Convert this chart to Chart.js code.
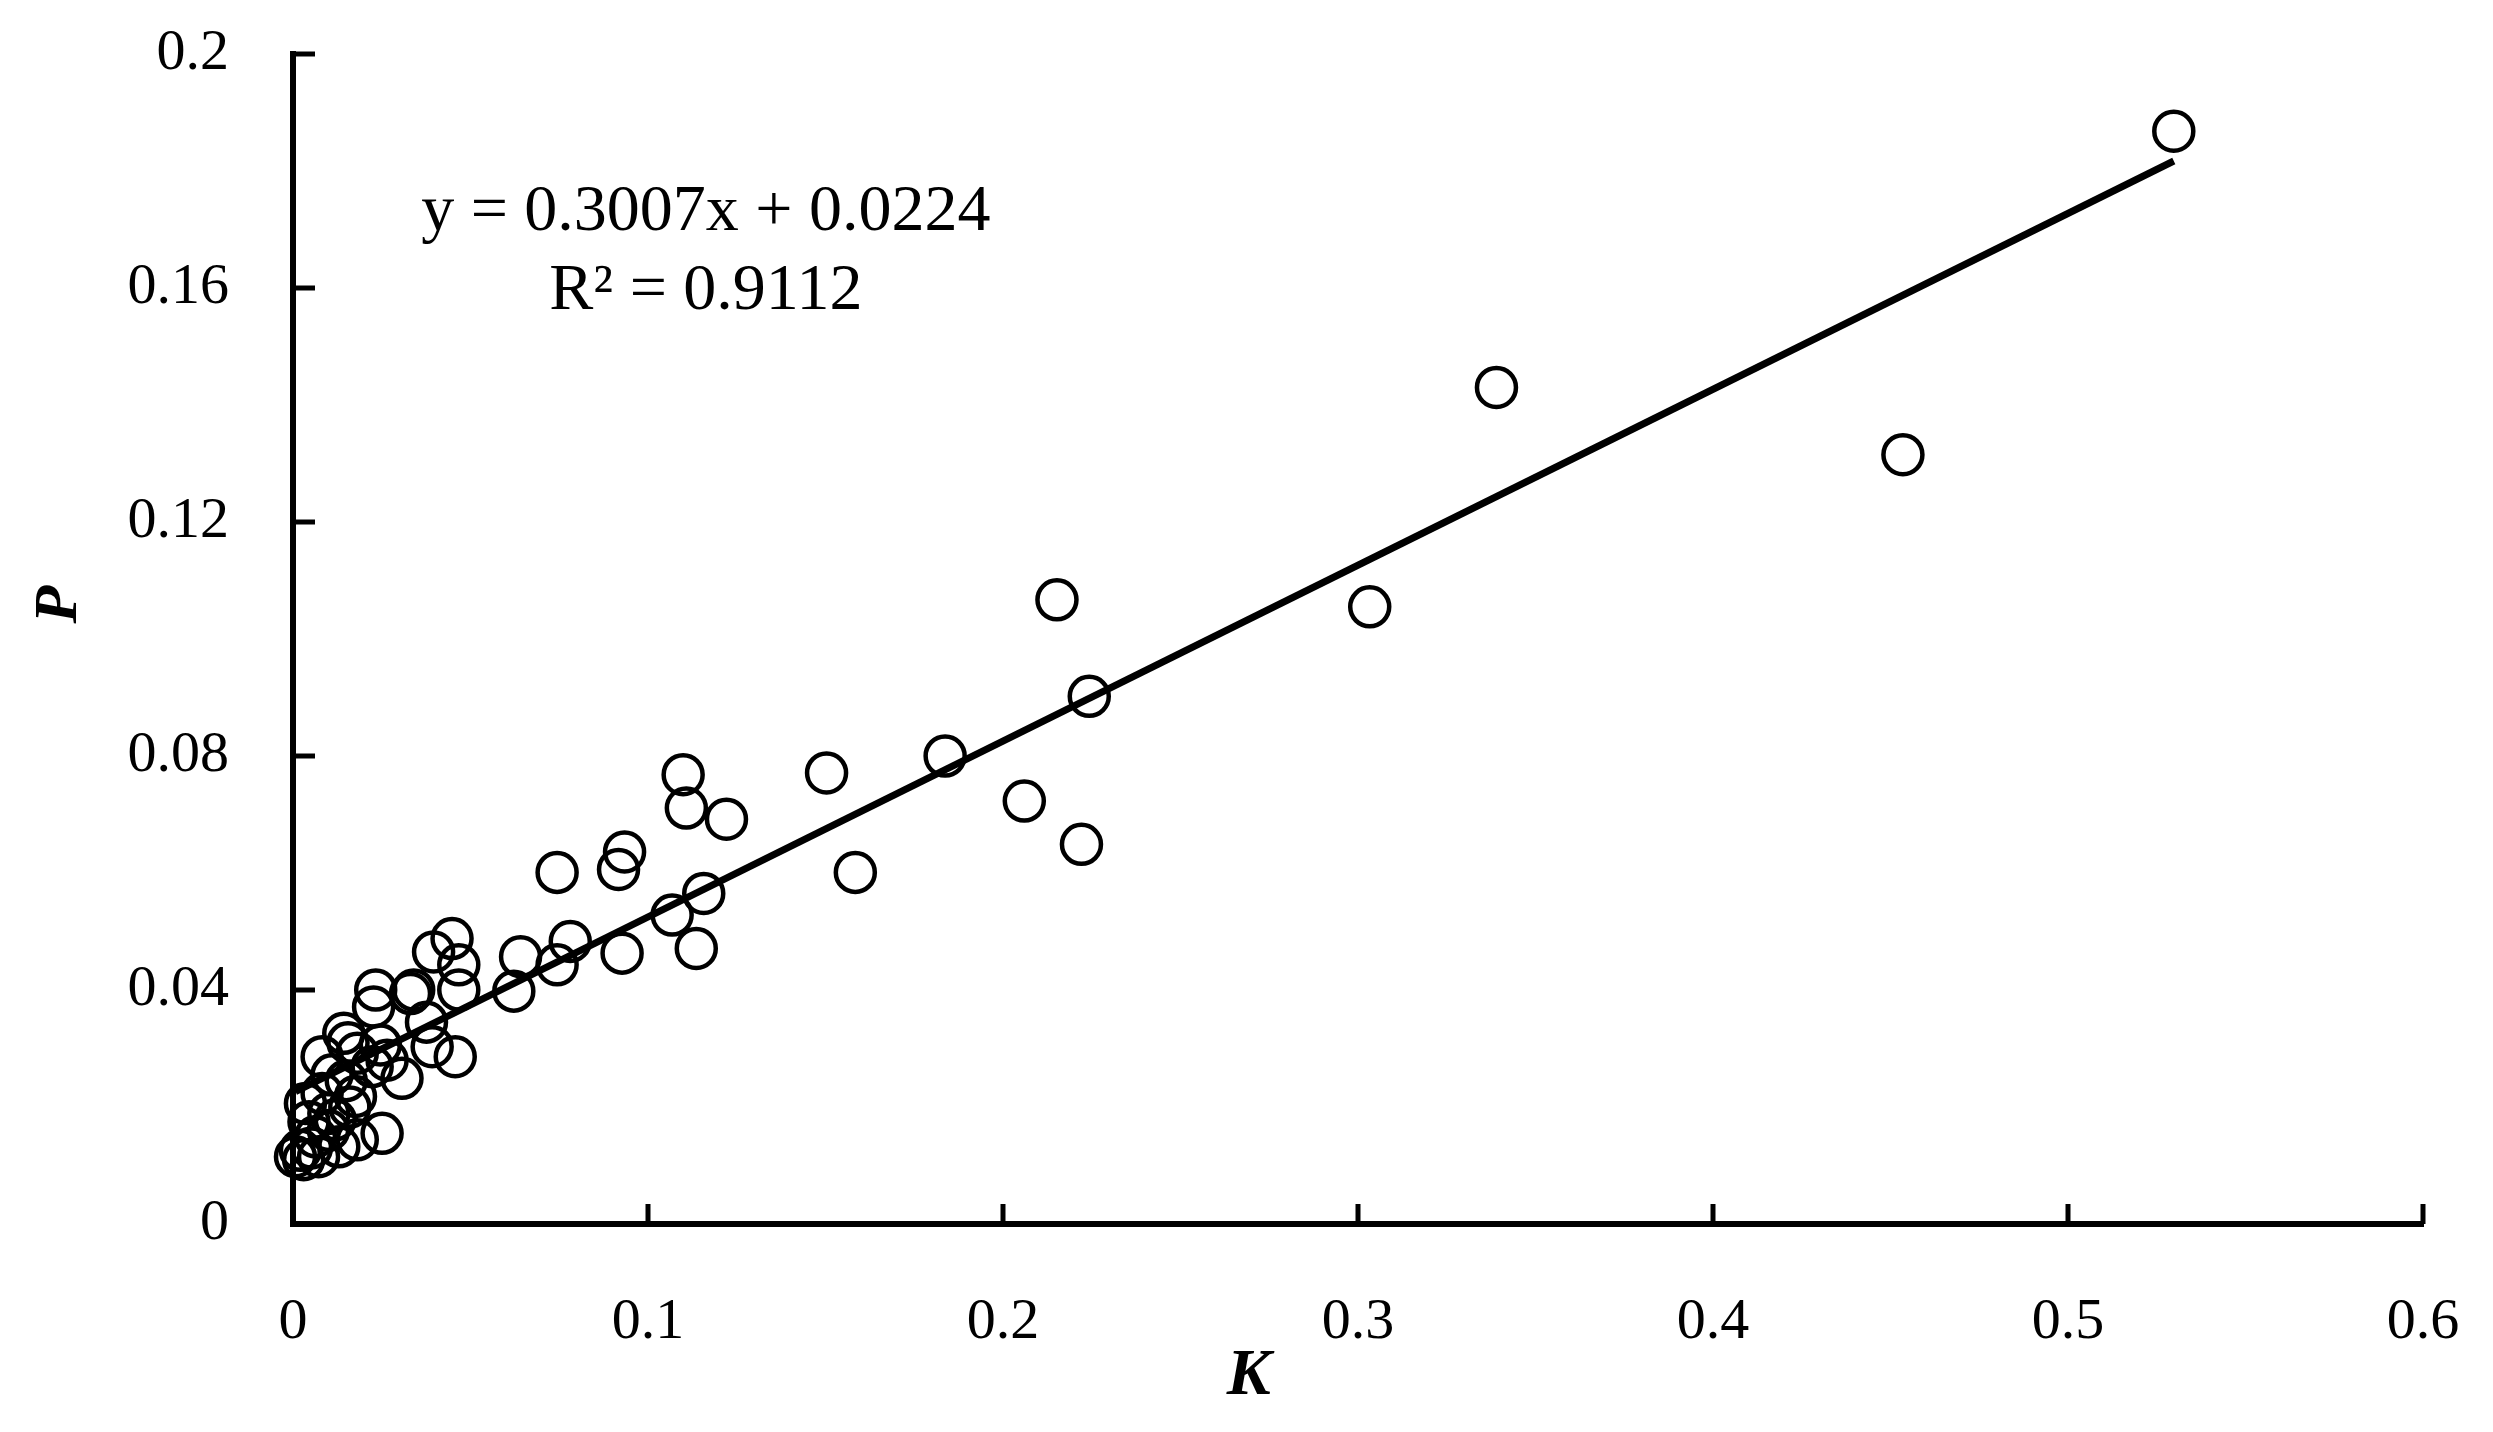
<!DOCTYPE html>
<html>
<head>
<meta charset="utf-8">
<script src="https://cdn.jsdelivr.net/npm/chart.js@4.4.1/dist/chart.umd.min.js"></script>
<style>
  html, body { margin: 0; padding: 0; background: #ffffff; }
  #wrap { width: 2493px; height: 1432px; }
</style>
</head>
<body>
<div id="wrap"><canvas id="c" width="2493" height="1432"></canvas></div>
<script>
// ---- data ----
const kValues = [
  0.5298, 0.3390, 0.4535, 0.3033, 0.2152, 0.2243, 0.1837, 0.2060, 0.2221, 0.1503,
  0.1584, 0.1099, 0.1108, 0.1221, 0.0744, 0.0917, 0.0934, 0.1068, 0.1157, 0.1136,
  0.0927, 0.0781, 0.0744, 0.0641, 0.0622, 0.0448, 0.0396, 0.0467, 0.0467, 0.0457,
  0.0331, 0.0340, 0.0392, 0.0376, 0.0307, 0.0251, 0.0233, 0.0227, 0.0143, 0.0246,
  0.0082, 0.0181, 0.0223, 0.0265, 0.0035, 0.0176, 0.0082, 0.0101, 0.0181, 0.0129,
  0.0021, 0.0063, 0.0007, 0.0072, 0.0119, 0.0045, 0.0150, 0.0110, 0.0052, 0.0160,
  0.0100, 0.0030, 0.0155
];
const pValues = [
  0.1868, 0.1430, 0.1315, 0.1055, 0.1067, 0.0902, 0.0800, 0.0723, 0.0649, 0.0771,
  0.0601, 0.0768, 0.0711, 0.0692, 0.0601, 0.0606, 0.0636, 0.0528, 0.0565, 0.0471,
  0.0463, 0.0483, 0.0443, 0.0457, 0.0398, 0.0488, 0.0465, 0.0443, 0.0400, 0.0286,
  0.0394, 0.0400, 0.0303, 0.0345, 0.0249, 0.0155, 0.0400, 0.0371, 0.0326, 0.0306,
  0.0286, 0.0292, 0.0269, 0.0280, 0.0206, 0.0218, 0.0223, 0.0189, 0.0144, 0.0132,
  0.0126, 0.0149, 0.0115, 0.0115, 0.0178, 0.0175, 0.0245, 0.0255, 0.0130, 0.0200,
  0.0160, 0.0110, 0.0310
];
const xTickValues = [0, 0.1, 0.2, 0.3, 0.4, 0.5, 0.6];
const xTickLabels = ['0', '0.1', '0.2', '0.3', '0.4', '0.5', '0.6'];
const yTickValues = [0, 0.04, 0.08, 0.12, 0.16, 0.2];
const yTickLabels = ['0', '0.04', '0.08', '0.12', '0.16', '0.2'];
const fitSlope = 0.3007;
const fitIntercept = 0.0224;
const equationLines = ['y = 0.3007x + 0.0224', 'R\u00B2 = 0.9112'];
const xTitle = 'K';
const yTitle = 'P';

// ---- derived structures ----
const points = kValues.map((k, i) => ({ x: k, y: pValues[i] }));
const kMin = Math.min(...kValues), kMax = Math.max(...kValues);
const trend = [
  { x: kMin, y: fitSlope * kMin + fitIntercept },
  { x: kMax, y: fitSlope * kMax + fitIntercept }
];

const SERIF = '"Liberation Serif", "Times New Roman", serif';

const decorPlugin = {
  id: 'decor',
  afterDraw(chart) {
    const ctx = chart.ctx;
    const xs = chart.scales.x, ys = chart.scales.y;
    const area = chart.chartArea;
    ctx.save();
    // inward tick marks
    ctx.strokeStyle = '#000';
    ctx.lineWidth = 5;
    ctx.lineCap = 'butt';
    xTickValues.forEach(v => {
      if (v === 0) return;
      const px = xs.getPixelForValue(v);
      ctx.beginPath();
      ctx.moveTo(px, area.bottom);
      ctx.lineTo(px, area.bottom - 20);
      ctx.stroke();
    });
    yTickValues.forEach(v => {
      if (v === 0) return;
      const py = ys.getPixelForValue(v);
      ctx.beginPath();
      ctx.moveTo(area.left, py);
      ctx.lineTo(area.left + 22, py);
      ctx.stroke();
    });
    // equation text
    ctx.fillStyle = '#000';
    ctx.font = '66px ' + SERIF;
    ctx.textAlign = 'center';
    ctx.textBaseline = 'middle';
    const ex = xs.getPixelForValue(0.1163);
    ctx.fillText(equationLines[0], ex, ys.getPixelForValue(0.1728));
    ctx.fillText(equationLines[1], ex, ys.getPixelForValue(0.1594));
    // axis titles
    ctx.font = 'italic bold 66px ' + SERIF;
    ctx.fillText(xTitle, xs.getPixelForValue(0.2692), area.bottom + 153);
    ctx.save();
    ctx.translate(area.left - 233, ys.getPixelForValue(0.1059));
    ctx.rotate(-Math.PI / 2);
    ctx.font = 'italic bold 62px ' + SERIF;
    ctx.fillText(yTitle, 0, 0);
    ctx.restore();
    ctx.restore();
  }
};

new Chart(document.getElementById('c'), {
  type: 'scatter',
  data: {
    datasets: [
      {
        type: 'scatter',
        data: points,
        pointStyle: 'circle',
        pointRadius: 19.5,
        pointHoverRadius: 19.5,
        pointBorderWidth: 4.5,
        pointBorderColor: '#000',
        pointBackgroundColor: 'rgba(0,0,0,0)',
        clip: false,
        order: 2
      },
      {
        type: 'line',
        data: trend,
        borderColor: '#000',
        borderWidth: 7,
        pointRadius: 0,
        fill: false,
        tension: 0,
        clip: false,
        order: 1
      }
    ]
  },
  options: {
    responsive: false,
    animation: false,
    devicePixelRatio: 1,
    events: [],
    layout: { padding: { left: 0, top: 54, right: 70, bottom: 0 } },
    plugins: {
      legend: { display: false },
      tooltip: { enabled: false },
      title: { display: false }
    },
    scales: {
      x: {
        type: 'linear',
        min: 0,
        max: 0.6,
        afterBuildTicks(scale) { scale.ticks = xTickValues.map(v => ({ value: v })); },
        afterFit(scale) {
          scale.height = 208;
          scale.paddingLeft = 0; scale.paddingRight = 0;
          scale.paddingTop = 0; scale.paddingBottom = 0;
        },
        grid: { display: false, drawTicks: false },
        border: { display: true, color: '#000', width: 6 },
        ticks: {
          color: '#000',
          padding: 64,
          maxRotation: 0,
          font: { family: SERIF, size: 58 },
          callback: (v) => { const i = xTickValues.findIndex(t => Math.abs(t - v) < 1e-9); return i >= 0 ? xTickLabels[i] : ''; }
        },
        title: { display: false }
      },
      y: {
        type: 'linear',
        min: 0,
        max: 0.2,
        afterBuildTicks(scale) { scale.ticks = yTickValues.map(v => ({ value: v })); },
        afterFit(scale) {
          scale.width = 293;
          scale.paddingLeft = 0; scale.paddingRight = 0;
          scale.paddingTop = 0; scale.paddingBottom = 0;
        },
        grid: { display: false, drawTicks: false },
        border: { display: true, color: '#000', width: 6 },
        ticks: {
          color: '#000',
          padding: 64,
          font: { family: SERIF, size: 58 },
          callback: (v) => { const i = yTickValues.findIndex(t => Math.abs(t - v) < 1e-9); return i >= 0 ? yTickLabels[i] : ''; }
        },
        title: { display: false }
      }
    }
  },
  plugins: [decorPlugin]
});
</script>
</body>
</html>
